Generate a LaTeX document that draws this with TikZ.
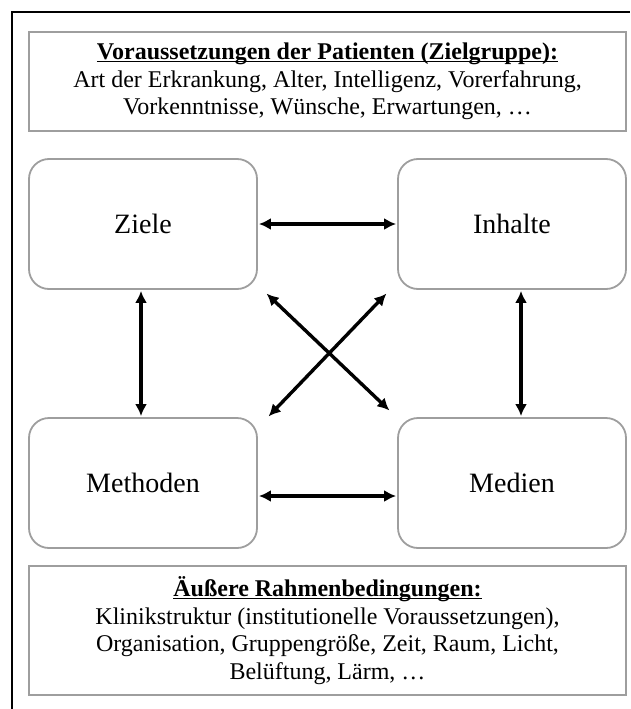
\documentclass[tikz,border=0pt]{standalone}
\usepackage{fontspec}
\setmainfont{Liberation Serif}
\usetikzlibrary{arrows.meta}
% underline at a fixed depth below the baseline, crossing descenders
\newcommand{\fixedul}[1]{\setbox0\hbox{#1}\rlap{\rule[-2.6pt]{\wd0}{1.4pt}}\box0}
\begin{document}
\begin{tikzpicture}[x=1pt,y=-1pt,
  infobox/.style={draw=black!38, line width=1.8pt, minimum width=597pt,
    align=center, font=\fontsize{24}{27.5}\selectfont, inner sep=0pt},
  topicbox/.style={draw=black!38, line width=1.8pt, rounded corners=20pt,
    minimum width=228pt, minimum height=130pt, inner sep=0pt,
    font=\fontsize{28}{32}\selectfont},
  link/.style={line width=3.4pt, {Latex[length=12pt,width=12pt]}-{Latex[length=12pt,width=12pt]}, shorten <=1pt, shorten >=1pt}]
\useasboundingbox (0,0) rectangle (630,709);
% frame (top and left edges)
\draw[line width=2.2pt] (12,709) -- (12,12) -- (630,12);

\node[infobox, minimum height=99pt] (pat) at (327.5,81.5)
  {\textbf{\fixedul{Voraussetzungen der Patienten (Zielgruppe):}}\\
   Art der Erkrankung, Alter, Intelligenz, Vorerfahrung,\\
   Vorkenntnisse, Wünsche, Erwartungen, …};

\node[infobox, minimum height=129pt] (rahmen) at (327.5,630.5)
  {\textbf{\fixedul{Äußere Rahmenbedingungen:}}\\
   Klinikstruktur (institutionelle Voraussetzungen),\\
   Organisation, Gruppengröße, Zeit, Raum, Licht,\\
   Belüftung, Lärm, …};

\node[topicbox] (ziele) at (143,224) {Ziele};
\node[topicbox] (inhalte) at (512,224) {Inhalte};
\node[topicbox] (methoden) at (143,483) {Methoden};
\node[topicbox] (medien) at (512,483) {Medien};

\draw[link] (ziele.east) -- (inhalte.west);
\draw[link] ([yshift=-13pt]methoden.east) -- ([yshift=-13pt]medien.west);
\draw[link] ([xshift=-2pt]ziele.south) -- ([xshift=-2pt]methoden.north);
\draw[link] ([xshift=9pt]inhalte.south) -- ([xshift=9pt]medien.north);
\draw[link] ([xshift=8pt,yshift=-3pt]ziele.south east) -- ([xshift=-7pt,yshift=6pt]medien.north west);
\draw[link] ([xshift=-10pt,yshift=-3pt]inhalte.south west) -- ([xshift=10pt,yshift=0pt]methoden.north east);
\end{tikzpicture}
\end{document}
